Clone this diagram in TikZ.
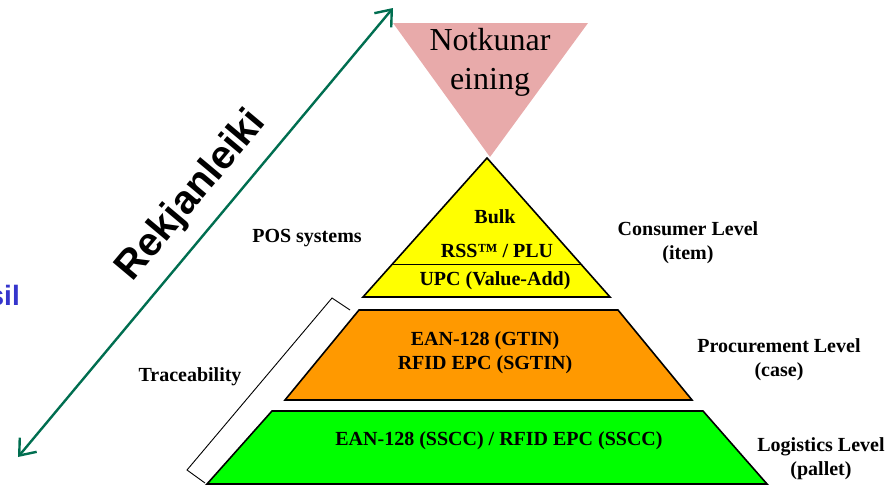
\documentclass[tikz,border=0pt]{standalone}
\usepackage{fontspec}
\setmainfont{Liberation Serif}
\newfontfamily\arialfont{Liberation Sans}
\usetikzlibrary{arrows.meta}
\definecolor{pinktri}{RGB}{232,170,170}
\definecolor{trackgreen}{RGB}{0,110,80}
\definecolor{silblue}{RGB}{53,53,204}
\definecolor{lvlorange}{RGB}{255,153,0}
\definecolor{lvlgreen}{RGB}{0,255,0}
\definecolor{lvlyellow}{RGB}{255,255,0}

\begin{document}
\begin{tikzpicture}[x=1pt, y=-1pt,
        lvl/.style={draw=black, line width=1.6pt, line join=miter},
        lbl/.style={font=\fontsize{20}{24}\selectfont\bfseries, align=center, inner sep=0pt},
        track/.style={draw=trackgreen, line width=2.4pt,
            {Straight Barb[length=14pt, width=22pt]}-{Straight Barb[length=14pt, width=22pt]}}]
            \useasboundingbox (0,0) rectangle (896,488);
            \pgfmathsetmacro{\ytop}{158}
            \pgfmathsetmacro{\ydiv}{264}

            % usage unit (inverted triangle)
            \fill[pinktri] (393,23) -- (588,23) -- (490,157) -- cycle;
            \node[font=\fontsize{32}{39}\selectfont, align=center, inner sep=0pt]
                (usage) at (490,62) {Notkunar\\eining};

            % pyramid levels
            \filldraw[lvl, fill=lvlyellow] (487,\ytop) -- (610,297) -- (363,297) -- cycle;
            \draw[line width=1pt] (392.5,\ydiv) -- (580.8,\ydiv);
            \filldraw[lvl, fill=lvlorange] (359,310) -- (618,310) -- (692,400) -- (285,400) -- cycle;
            \filldraw[lvl, fill=lvlgreen] (272,411) -- (703,411) -- (767,484) -- (207,484) -- cycle;

            \node[lbl] (bulk) at (495,217) {Bulk};
            \node[lbl] (rss) at (497,251) {RSS™ / PLU};
            \node[lbl] (upc) at (495,281) {UPC (Value-Add)};
            \node[lbl] (gtin) at (485,341) {EAN-128 (GTIN)};
            \node[lbl] (sgtin) at (485,365) {RFID EPC (SGTIN)};
            \node[lbl] (sscc) at (499,441) {EAN-128 (SSCC) / RFID EPC (SSCC)};

            % level names
            \node[lbl] (consumer) at (688,243) {Consumer Level\\(item)};
            \node[lbl] (procure) at (779,360) {Procurement Level\\(case)};
            \node[lbl] (logistic) at (821,459) {Logistics Level\\(pallet)};
            \node[lbl] (pos) at (307,238) {POS systems};
            \node[lbl] (trace) at (190,377) {Traceability};

            % traceability bracket
            \draw[line width=0.9pt] (350,310) -- (332,298) -- (187,470) -- (205,483);

            % traceability arrow
            \coordinate (trlow) at (18,457);
            \coordinate (trhigh) at (393,8);
            \draw[track] (trlow) -- (trhigh);
            \node[rotate=50, font=\arialfont\bfseries\fontsize{40}{40}\selectfont, inner sep=0pt]
                (rek) at (192,196) {Rekjanleiki};

            \node[anchor=base east, font=\arialfont\bfseries\fontsize{28}{28}\selectfont,
                text=silblue, inner sep=0pt] (sil) at (20,305) {sil};
        \end{tikzpicture}
\end{document}
